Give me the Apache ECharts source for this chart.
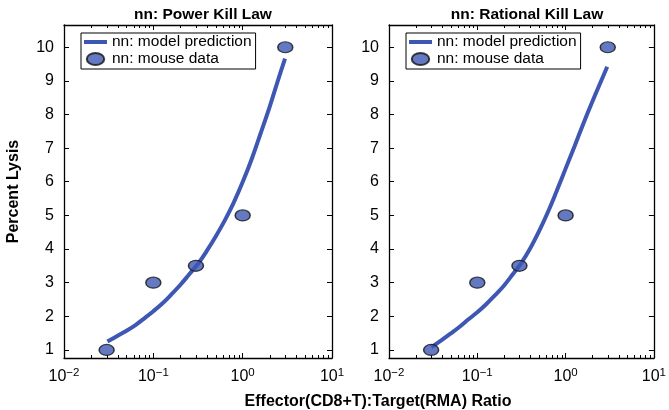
<!DOCTYPE html>
<html>
<head>
<meta charset="utf-8">
<script src="https://cdn.jsdelivr.net/npm/echarts@6/dist/echarts.min.js"></script>
<style>html,body{margin:0;padding:0;background:#fff}#c{width:669px;height:410px}</style>
</head>
<body>
<div id="c"></div>
<script>
// ---- data ----
const panelTitles = ['nn: Power Kill Law', 'nn: Rational Kill Law'];
const seriesNames = ['nn: model prediction', 'nn: mouse data'];
const xLabel = 'Effector(CD8+T):Target(RMA) Ratio';
const yLabel = 'Percent Lysis';
const mouseX = [0.03, 0.1, 0.3, 1, 3];
const mouseY = [1, 3, 3.5, 5, 10];
const powerCurveX = [0.0306, 0.0398, 0.0501, 0.0631, 0.0794, 0.1, 0.126, 0.158, 0.2, 0.251, 0.316, 0.398, 0.501, 0.631, 0.794, 1.0, 1.26, 1.58, 2.0, 2.51, 2.98];
const powerCurveY = [1.25, 1.42, 1.57, 1.74, 1.94, 2.15, 2.38, 2.64, 2.93, 3.24, 3.56, 3.95, 4.38, 4.85, 5.38, 5.99, 6.67, 7.42, 8.22, 9.05, 9.66];
const rationalCurveX = [0.0302, 0.0398, 0.0501, 0.0631, 0.0794, 0.1, 0.126, 0.158, 0.2, 0.251, 0.316, 0.398, 0.501, 0.631, 0.794, 1.0, 1.26, 1.58, 2.0, 2.51, 2.96];
const rationalCurveY = [1.08, 1.30, 1.49, 1.69, 1.91, 2.12, 2.36, 2.62, 2.91, 3.24, 3.59, 4.02, 4.53, 5.10, 5.73, 6.39, 7.05, 7.71, 8.37, 8.98, 9.42];
const xTickValues = [0.01, 0.1, 1, 10];
const xMinorTicks = [0.02,0.03,0.04,0.05,0.06,0.07,0.08,0.09,0.2,0.3,0.4,0.5,0.6,0.7,0.8,0.9,2,3,4,5,6,7,8,9];
const yTickLabels = [1,2,3,4,5,6,7,8,9,10];
const yMin = 0.76, yMax = 10.66;
const xMin = 0.01, xMax = 10;

const FONT = '"Liberation Sans", Arial, Helvetica, sans-serif';
const BLUE = '#3D57B2';
const chart = echarts.init(document.getElementById('c'), null, {renderer: 'canvas'});

const grids = [
  {left: 64, top: 25, width: 268, height: 333},
  {left: 389, top: 25, width: 267, height: 333}
];
const axisLine = {show: true, onZero: false, lineStyle: {color: '#000', width: 1.3}};
const ellipse = 'path://M0,50 A50,50 0 1,1 100,50 A50,50 0 1,1 0,50 Z';
const legendEllipse = 'path://M0,5.5 A8,5.5 0 1,1 16,5.5 A8,5.5 0 1,1 0,5.5 Z';
const legendLine = 'path://M0,0 H23 V4 H0 Z';

const xAxes = [], yAxes = [], series = [];
grids.forEach((g, i) => {
  xAxes.push({
    type: 'log', gridIndex: i, min: xMin, max: xMax, logBase: 10, position: 'bottom',
    axisLine: axisLine,
    axisTick: {show: true, inside: true, length: 5, lineStyle: {color: '#000', width: 1}},
    splitLine: {show: false},
    axisLabel: {
      margin: 9, color: '#000',
      formatter: v => {
        const e = Math.round(Math.log10(v));
        return '{b|10}{s|' + (e < 0 ? '\u2212' + (-e) : e) + '}';
      },
      rich: {
        b: {fontSize: 16, fontFamily: FONT, color: '#000', verticalAlign: 'bottom', lineHeight: 18},
        s: {fontSize: 11.5, fontFamily: FONT, color: '#000', verticalAlign: 'top', lineHeight: 12, padding: [0, 0, 8, 0]}
      }
    }
  });
  xAxes.push({
    type: 'log', gridIndex: i, min: xMin, max: xMax, logBase: 10, position: 'top',
    axisLine: axisLine,
    axisTick: {show: true, inside: true, length: 5, lineStyle: {color: '#000', width: 1}},
    axisLabel: {show: false}, splitLine: {show: false}
  });
  yAxes.push({
    type: 'value', gridIndex: i, min: yMin, max: yMax, position: 'left',
    axisLine: axisLine,
    axisTick: {show: true, inside: true, length: 5, lineStyle: {color: '#000', width: 1},
      customValues: yTickLabels},
    axisLabel: {margin: 10, color: '#000', fontSize: 16, fontFamily: FONT, customValues: yTickLabels},
    splitLine: {show: false},
    name: i === 0 ? yLabel : '',
    nameLocation: 'middle', nameGap: 42, nameRotate: 90,
    nameTextStyle: {fontSize: 16, fontWeight: 'bold', fontFamily: FONT, color: '#000'}
  });
  yAxes.push({
    type: 'value', gridIndex: i, min: yMin, max: yMax, position: 'right',
    axisLine: axisLine,
    axisTick: {show: true, inside: true, length: 5, lineStyle: {color: '#000', width: 1},
      customValues: yTickLabels},
    axisLabel: {show: false}, splitLine: {show: false}
  });
  const cx = i === 0 ? powerCurveX : rationalCurveX;
  const cy = i === 0 ? powerCurveY : rationalCurveY;
  series.push({
    name: seriesNames[0], type: 'line', xAxisIndex: 2 * i, yAxisIndex: 2 * i,
    data: cx.map((x, k) => [x, cy[k]]), smooth: 0.4, showSymbol: false, symbol: 'none',
    lineStyle: {color: BLUE, width: 4}, itemStyle: {color: BLUE}, z: 2, silent: true
  });
  series.push({
    name: seriesNames[1], type: 'scatter', xAxisIndex: 2 * i, yAxisIndex: 2 * i,
    data: mouseX.map((x, k) => [x, mouseY[k]]),
    symbol: ellipse, symbolSize: [15, 11], symbolKeepAspect: false,
    itemStyle: {color: BLUE, borderColor: '#111', borderWidth: 1.3}, z: 3, silent: true
  });
  series.push({
    type: 'custom', xAxisIndex: 2 * i, yAxisIndex: 2 * i, silent: true, z: 1,
    data: xMinorTicks.map(v => [v, yMin]),
    renderItem: (params, api) => {
      const p = api.coord([api.value(0), yMin]);
      const cs = params.coordSys;
      const x = Math.round(p[0]) + 0.5;
      const style = {stroke: '#000', lineWidth: 1};
      return {type: 'group', children: [
        {type: 'line', shape: {x1: x, y1: cs.y + cs.height, x2: x, y2: cs.y + cs.height - 3}, style},
        {type: 'line', shape: {x1: x, y1: cs.y, x2: x, y2: cs.y + 3}, style}
      ]};
    }
  });
});

const legendBase = {
  orient: 'vertical', top: 33,
  data: [
    {name: seriesNames[0], icon: legendLine, itemStyle: {color: BLUE, borderWidth: 0}},
    {name: seriesNames[1], icon: legendEllipse}
  ],
  symbolKeepAspect: true,
  borderColor: '#000', borderWidth: 1, backgroundColor: '#fff',
  padding: [1, 4, 2, 3], itemGap: 1, itemWidth: 23, itemHeight: 12,
  textStyle: {fontSize: 15.5, fontFamily: FONT, color: '#000'},
  selectedMode: false
};

chart.setOption({
  animation: false,
  backgroundColor: '#fff',
  title: [
    {text: panelTitles[0], left: 198, top: 2, textAlign: 'center',
      textStyle: {fontSize: 15.5, fontWeight: 'bold', fontFamily: FONT, color: '#000'}},
    {text: panelTitles[1], left: 522, top: 2, textAlign: 'center',
      textStyle: {fontSize: 15.5, fontWeight: 'bold', fontFamily: FONT, color: '#000'}},
    {text: xLabel, left: 373, top: 389, textAlign: 'center',
      textStyle: {fontSize: 16, fontWeight: 'bold', fontFamily: FONT, color: '#000'}}
  ],
  legend: [
    Object.assign({left: 81}, legendBase),
    Object.assign({left: 406}, legendBase)
  ],
  grid: grids,
  xAxis: xAxes,
  yAxis: yAxes,
  series: series
});
</script>
</body>
</html>
